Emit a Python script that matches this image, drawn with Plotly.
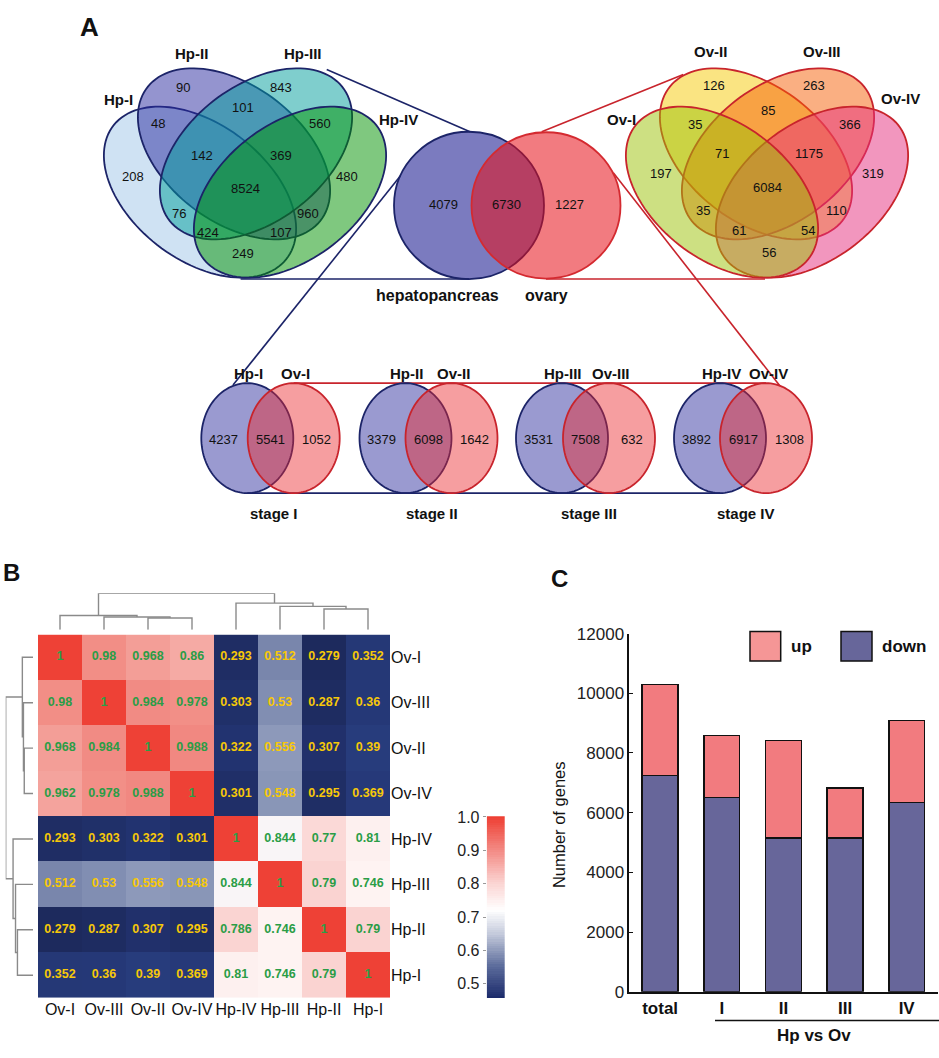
import numpy as np
import plotly.graph_objects as go

W, H = 939, 1058
FONT = "Liberation Sans, Arial, sans-serif"

# ---------------- data ----------------
# Panel A: four-set Venn diagrams (regions: A, B, C, D, AB, BC, CD, ABC, BCD, AC, BD, ACD, ABD, AD, ABCD)
hp_sets = ["Hp-I", "Hp-II", "Hp-III", "Hp-IV"]
ov_sets = ["Ov-I", "Ov-II", "Ov-III", "Ov-IV"]
hp_counts = [208, 90, 843, 480, 48, 101, 560, 142, 369, 76, 960, 424, 107, 249, 8524]
ov_counts = [197, 126, 263, 319, 35, 85, 366, 71, 1175, 35, 110, 61, 54, 56, 6084]
tissue_labels = ["hepatopancreas", "ovary"]
tissue_counts = [4079, 6730, 1227]           # hp only, shared, ovary only
stage_labels = ["stage I", "stage II", "stage III", "stage IV"]
stage_hp = ["Hp-I", "Hp-II", "Hp-III", "Hp-IV"]
stage_ov = ["Ov-I", "Ov-II", "Ov-III", "Ov-IV"]
stage_hp_only = [4237, 3379, 3531, 3892]
stage_shared = [5541, 6098, 7508, 6917]
stage_ov_only = [1052, 1642, 632, 1308]

# Panel B: correlation heatmap
samples = ["Ov-I", "Ov-III", "Ov-II", "Ov-IV", "Hp-IV", "Hp-III", "Hp-II", "Hp-I"]
corr = [
    [1, 0.98, 0.968, 0.86, 0.293, 0.512, 0.279, 0.352],
    [0.98, 1, 0.984, 0.978, 0.303, 0.53, 0.287, 0.36],
    [0.968, 0.984, 1, 0.988, 0.322, 0.556, 0.307, 0.39],
    [0.962, 0.978, 0.988, 1, 0.301, 0.548, 0.295, 0.369],
    [0.293, 0.303, 0.322, 0.301, 1, 0.844, 0.77, 0.81],
    [0.512, 0.53, 0.556, 0.548, 0.844, 1, 0.79, 0.746],
    [0.279, 0.287, 0.307, 0.295, 0.786, 0.746, 1, 0.79],
    [0.352, 0.36, 0.39, 0.369, 0.81, 0.746, 0.79, 1],
]
# dendrogram linkage (leaf indices in display order; new nodes numbered 8..14)
link_a = [2, 1, 0, 6, 5, 4, 10]
link_b = [3, 8, 9, 7, 11, 12, 13]
link_h = [0.32, 0.35, 0.39, 0.57, 0.64, 0.73, 1.0]
cbar_ticks = [0.5, 0.6, 0.7, 0.8, 0.9, 1.0]

# Panel C: DEGs
bar_cats = ["total", "I", "II", "III", "IV"]
down_vals = [7240, 6510, 5150, 5150, 6340]
up_vals = [3060, 2070, 3260, 1670, 2750]
y_ticks = [0, 2000, 4000, 6000, 8000, 10000, 12000]

# ---------------- helpers ----------------
def dx(x0, x1):
    return [x0 / W, x1 / W]

def dy(y0, y1):  # y0 top px, y1 bottom px
    return [1 - y1 / H, 1 - y0 / H]

def ellipse_path(cx, cy, a, b, theta_deg, n=120):
    t = np.linspace(0, 2 * np.pi, n, endpoint=False)
    th = np.radians(theta_deg)
    x = cx + a * np.cos(t) * np.cos(th) - b * np.sin(t) * np.sin(th)
    y = cy + a * np.cos(t) * np.sin(th) + b * np.sin(t) * np.cos(th)
    return "M " + " L ".join(f"{xi:.2f},{yi:.2f}" for xi, yi in zip(x, y)) + " Z"

shapes = []
annots = []

def add_text(x, y, text, size=13, color="#111", bold=False, xanchor="center", angle=0):
    annots.append(dict(x=x, y=y, xref="x6", yref="y6", text=(f"<b>{text}</b>" if bold else text),
                       showarrow=False, xanchor=xanchor, yanchor="middle", textangle=angle,
                       font=dict(family=FONT, size=size, color=color)))

def add_line(x0, y0, x1, y1, color, width=1.6):
    shapes.append(dict(type="line", xref="x6", yref="y6", x0=x0, y0=y0, x1=x1, y1=y1,
                       line=dict(color=color, width=width)))

NAVY = "#1c2468"
RED = "#c8242c"

# ---------------- Panel A ----------------
EA, EB, ETH = 110, 68.7, 38.5
ell_geom = {"A": (200, 186.5, ETH), "B": (234, 147.5, ETH), "C": (256, 147.5, -ETH), "D": (290, 186.5, -ETH)}

hp_fill = {"A": "rgba(160,197,232,0.5)", "B": "rgba(41,41,159,0.5)",
           "C": "rgba(0,157,155,0.5)", "D": "rgba(0,145,0,0.5)"}
ov_fill = {"A": "rgba(155,193,5,0.5)", "B": "rgba(245,201,5,0.5)",
           "C": "rgba(245,95,5,0.5)", "D": "rgba(229,45,125,0.5)"}

# connecting lines (drawn first, below)
add_line(326.7, 61.7, 470, 125, NAVY)
add_line(240.6, 275, 469, 275, NAVY)
add_line(546, 275, 765, 275, RED)
add_line(541.7, 125, 683.3, 66.7, RED)
add_line(400.3, 170, 233, 383, NAVY)
add_line(613.3, 166.7, 780, 384, RED)
add_line(293.7, 381, 766, 381, RED)
add_line(247.3, 493, 720, 493, NAVY)

for key in ["A", "B", "C", "D"]:
    cx, cy, th = ell_geom[key]
    shapes.append(dict(type="path", xref="x6", yref="y6", path=ellipse_path(cx, cy, EA, EB, th),
                       fillcolor=hp_fill[key], line=dict(color=NAVY, width=1.8)))
for key in ["B", "C", "D", "A"]:
    cx, cy, th = ell_geom[key]
    shapes.append(dict(type="path", xref="x6", yref="y6", path=ellipse_path(cx + 522, cy, EA, EB, th),
                       fillcolor=ov_fill[key], line=dict(color=RED, width=1.8)))

hp_pos = [(132.7, 171), (183.3, 80), (280.7, 80), (347.3, 171), (158.3, 117), (243.3, 100), (320, 117),
          (201.7, 149), (280.7, 149), (179.3, 208), (308.3, 208), (208.3, 228), (280.7, 228), (243.3, 249), (245, 183)]
ov_pos = [(660.7, 168), (714, 78), (814.3, 78), (873.3, 168), (695, 118), (767.7, 103), (850, 118),
          (722.3, 147), (809.3, 147), (703.3, 205), (836.7, 205), (739.3, 226), (807.7, 226), (769, 248), (767.7, 182)]
for (x, y), v in zip(hp_pos, hp_counts):
    add_text(x, y, str(v), size=13)
for (x, y), v in zip(ov_pos, ov_counts):
    add_text(x, y, str(v), size=13)

hp_lab_pos = [(118, 92), (191.7, 45), (303, 45), (398, 113)]
ov_lab_pos = [(621.7, 113), (710.7, 43), (821.7, 43), (900, 91)]
for (x, y), s in zip(hp_lab_pos, hp_sets):
    add_text(x, y, s, size=15, bold=True)
for (x, y), s in zip(ov_lab_pos, ov_sets):
    add_text(x, y, s, size=15, bold=True)

# big two-circle venn
shapes.append(dict(type="circle", xref="x6", yref="y6", x0=469 - 75, x1=469 + 75, y0=125, y1=275,
                   fillcolor="rgba(15,15,139,0.55)", line=dict(color=NAVY, width=1.8)))
shapes.append(dict(type="circle", xref="x6", yref="y6", x0=546 - 74.5, x1=546 + 74.5, y0=125.5, y1=274.5,
                   fillcolor="rgba(231,15,24,0.55)", line=dict(color="#d42a30", width=1.8)))
for x, v in zip([443, 506, 569], tissue_counts):
    add_text(x, 199, str(v), size=13)
add_text(437, 292, tissue_labels[0], size=16, bold=True)
add_text(546, 292, tissue_labels[1], size=16, bold=True)

# stage venns
stage_hp_cx = [247.3, 405.5, 562, 720]
stage_ov_cx = [293.7, 451.5, 609, 766]
for i in range(4):
    shapes.append(dict(type="path", xref="x6", yref="y6", path=ellipse_path(stage_hp_cx[i], 437, 46, 56, 0),
                       fillcolor="rgba(30,30,150,0.45)", line=dict(color=NAVY, width=1.8)))
    shapes.append(dict(type="path", xref="x6", yref="y6", path=ellipse_path(stage_ov_cx[i], 437, 46, 56, 0),
                       fillcolor="rgba(235,40,45,0.45)", line=dict(color=RED, width=1.8)))
    add_text(stage_hp_cx[i] - 24, 438, str(stage_hp_only[i]), size=13)
    add_text((stage_hp_cx[i] + stage_ov_cx[i]) / 2, 438, str(stage_shared[i]), size=13)
    add_text(stage_ov_cx[i] + 23, 438, str(stage_ov_only[i]), size=13)
    add_text(stage_hp_cx[i] + 1, 371, stage_hp[i], size=15, bold=True)
    add_text(stage_ov_cx[i] + 2, 371, stage_ov[i], size=15, bold=True)
    add_text((stage_hp_cx[i] + stage_ov_cx[i]) / 2 + 3, 514, stage_labels[i], size=15, bold=True)

# panel letters
add_text(89, 18, "A", size=26, bold=True)
add_text(11, 574, "B", size=24, bold=True)
add_text(559, 580, "C", size=24, bold=True)

# ---------------- Panel B ----------------
HX0, HX1, HY0, HY1 = 38, 390, 637, 1007
zmin, zmax = 0.279, 1.0
heat_stops = [(0.279, "#1d2a5d"), (0.30, "#202f68"), (0.33, "#233573"), (0.40, "#283d7d"),
              (0.50, "#7381a8"), (0.56, "#8f9bbb"), (0.70, "#f0f0f5"), (0.745, "#fef4f3"),
              (0.77, "#fbd9d7"), (0.79, "#fad3d1"), (0.805, "#fdeeed"), (0.83, "#fbf7f8"),
              (0.85, "#f8f4f6"), (0.855, "#f5aaa4"), (0.965, "#f4a39d"), (0.975, "#f29189"),
              (0.99, "#f18780"), (0.995, "#ef6a61"), (1.0, "#ee4136")]
heat_cs = [[(v - zmin) / (zmax - zmin), c] for v, c in heat_stops]

idx = list(range(len(samples)))
fig = go.Figure()
fig.add_trace(go.Heatmap(z=corr, x=idx, y=idx, zmin=zmin, zmax=zmax, colorscale=heat_cs,
                         showscale=False, xaxis="x", yaxis="y", hoverinfo="skip"))
tx, ty, tt, tc = [], [], [], []
for r in idx:
    for c in idx:
        v = corr[r][c]
        tx.append(c); ty.append(r)
        tt.append("1" if v == 1 else f"{v:g}")
        tc.append("#2a9d46" if v > 0.7 else "#f7c808")
fig.add_trace(go.Scatter(x=tx, y=ty, text=tt, mode="text", xaxis="x", yaxis="y",
                         textfont=dict(family=FONT, size=12.5, color=tc, weight="bold"), hoverinfo="skip"))

# dendrograms
def dendro_segments(a_list, b_list, h_list, n_leaves):
    pos = {i: float(i) for i in range(n_leaves)}
    hgt = {i: 0.0 for i in range(n_leaves)}
    xs, ys = [], []
    for k, (a, b, h) in enumerate(zip(a_list, b_list, h_list)):
        xa, xb = pos[a], pos[b]
        xs += [xa, xa, xb, xb, None]
        ys += [hgt[a], h, h, hgt[b], None]
        pos[n_leaves + k] = (xa + xb) / 2
        hgt[n_leaves + k] = h
    return xs, ys

dxs, dys = dendro_segments(link_a, link_b, link_h, len(samples))
fig.add_trace(go.Scatter(x=dxs, y=dys, mode="lines", line=dict(color="#8a8a8a", width=1.4),
                         xaxis="x4", yaxis="y4", hoverinfo="skip"))
fig.add_trace(go.Scatter(x=dys, y=dxs, mode="lines", line=dict(color="#8a8a8a", width=1.4),
                         xaxis="x5", yaxis="y5", hoverinfo="skip"))

# colour key
cb_levels = np.linspace(0.458, 1.0, 80)
cb_stops = [(0.458, "#1c2b6b"), (0.55, "#5a6a9a"), (0.65, "#c5cbdc"), (0.72, "#ffffff"),
            (0.8, "#fbd5d3"), (0.9, "#f38a84"), (1.0, "#ee3f33")]
cb_cs = [[(v - 0.458) / (1.0 - 0.458), c] for v, c in cb_stops]
fig.add_trace(go.Heatmap(z=[[v] for v in cb_levels], x=[0], y=cb_levels, zmin=0.458, zmax=1.0,
                         colorscale=cb_cs, showscale=False, xaxis="x3", yaxis="y3", hoverinfo="skip"))

# ---------------- Panel C ----------------
fig.add_trace(go.Bar(x=bar_cats, y=down_vals, name="down", marker=dict(color="#67669a", line=dict(color="#111", width=1.5)),
                     width=0.58, xaxis="x2", yaxis="y2"))
fig.add_trace(go.Bar(x=bar_cats, y=up_vals, name="up", marker=dict(color="#f27b7f", line=dict(color="#111", width=1.5)),
                     width=0.58, xaxis="x2", yaxis="y2"))

# legend + annotations for C
shapes.append(dict(type="rect", xref="x6", yref="y6", x0=750, x1=780.7, y0=634, y1=664,
                   fillcolor="#f59696", line=dict(color="#111", width=1.5)))
shapes.append(dict(type="rect", xref="x6", yref="y6", x0=841, x1=872, y0=634, y1=664,
                   fillcolor="#67669a", line=dict(color="#111", width=1.5)))
add_text(789, 649, "up", size=17, bold=True, xanchor="left")
add_text(880, 649, "down", size=17, bold=True, xanchor="left")
add_line(715, 1030, 939, 1030, "#111", 1.5)
add_text(814, 1045, "Hp vs Ov", size=17, bold=True)
add_text(559, 831, "Number of genes", size=16.5, angle=-90)

# ---------------- layout ----------------
hidden = dict(visible=False, showgrid=False, zeroline=False, fixedrange=True)
fig.update_layout(
    width=W, height=H, margin=dict(l=0, r=0, t=0, b=0),
    paper_bgcolor="white", plot_bgcolor="rgba(0,0,0,0)",
    showlegend=False, barmode="stack", bargap=0.42,
    font=dict(family=FONT, color="#111"),
    xaxis=dict(domain=dx(HX0, HX1), range=[-0.5, 7.5], tickvals=idx, ticktext=samples, anchor="y",
               showgrid=False, zeroline=False, ticks="", showline=False,
               tickfont=dict(family=FONT, size=16, color="#111"), fixedrange=True),
    yaxis=dict(domain=dy(HY0, HY1), range=[7.5, -0.5], tickvals=idx, ticktext=samples, anchor="x",
               side="right", showgrid=False, zeroline=False, ticks="", showline=False,
               tickfont=dict(family=FONT, size=16, color="#111"), fixedrange=True),
    xaxis4=dict(domain=dx(HX0, HX1), range=[-0.5, 7.5], anchor="y4", **hidden),
    yaxis4=dict(domain=dy(595, 632), range=[0, 1.0], anchor="x4", **hidden),
    xaxis5=dict(domain=dx(5.7, 33), range=[1.0, 0], anchor="y5", **hidden),
    yaxis5=dict(domain=dy(HY0, HY1), range=[7.5, -0.5], anchor="x5", **hidden),
    xaxis3=dict(domain=dx(486.7, 505), range=[-0.5, 0.5], anchor="y3", **hidden),
    yaxis3=dict(domain=dy(822, 1007), range=[0.458, 1.002], anchor="x3", side="left",
                tickvals=cbar_ticks, ticktext=[f"{v:.1f}" for v in cbar_ticks],
                ticks="outside", ticklen=3, tickcolor="#999", showgrid=False, zeroline=False,
                showline=False, tickfont=dict(family=FONT, size=16, color="#222"), fixedrange=True),
    xaxis2=dict(domain=dx(629.3, 937.5), range=[-0.5, 4.5], anchor="y2", showline=True, linecolor="#111",
                linewidth=1.5, ticks="", showgrid=False, zeroline=False,
                tickfont=dict(family=FONT, size=17, color="#111", weight="bold"), fixedrange=True),
    yaxis2=dict(domain=dy(636, 1000.7), range=[0, 12000], anchor="x2", tickvals=y_ticks,
                ticktext=[str(v) for v in y_ticks],
                showline=True, linecolor="#111", linewidth=1.5, ticks="inside", ticklen=4, tickcolor="#111",
                showgrid=False, zeroline=False, tickfont=dict(family=FONT, size=17, color="#222"),
                fixedrange=True),
    xaxis6=dict(domain=[0, 1], range=[0, W], anchor="y6", **hidden),
    yaxis6=dict(domain=[0, 1], range=[H, 0], anchor="x6", **hidden),
    shapes=shapes, annotations=annots,
)

fig.write_html("out.html", config={"displayModeBar": False},
               post_script="document.body.style.margin='0';document.body.style.overflow='hidden';")
